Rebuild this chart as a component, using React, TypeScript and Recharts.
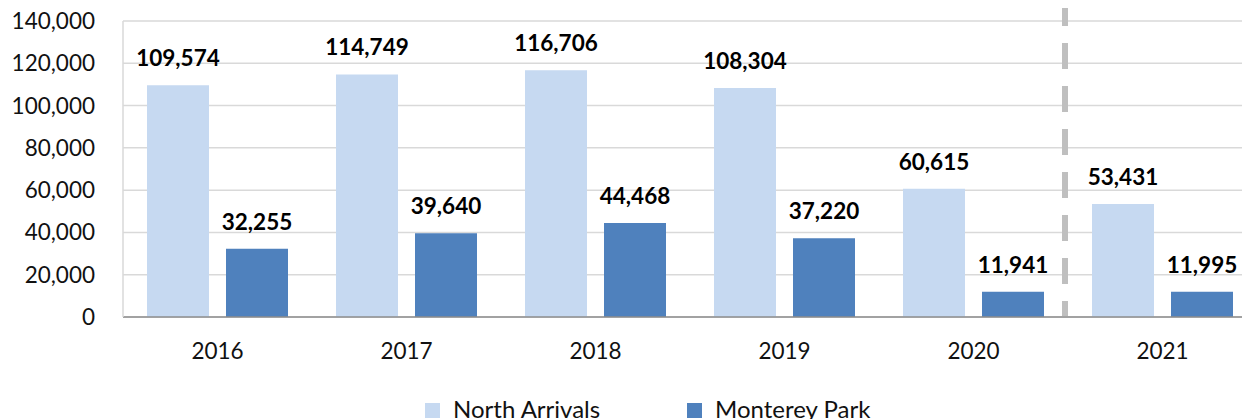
import React from "react";
import {
  BarChart,
  Bar,
  XAxis,
  YAxis,
  CartesianGrid,
  Legend,
  LabelList,
  ReferenceLine,
} from "recharts";

const years = ["2016", "2017", "2018", "2019", "2020", "2021"];
const northArrivals = [109574, 114749, 116706, 108304, 60615, 53431];
const montereyPark = [32255, 39640, 44468, 37220, 11941, 11995];
const yTicks = [0, 20000, 40000, 60000, 80000, 100000, 120000, 140000];
const seriesNames = ["North Arrivals", "Monterey Park"];
const ytdLabel = "Year to Date";

const data = years.map((y, i) => ({
  year: y,
  north: northArrivals[i],
  monterey: montereyPark[i],
}));

const FONT = "Lato, 'Open Sans', sans-serif";
const LIGHT = "#C6D9F1";
const DARK = "#4F81BD";

const fmt = (v: any) => Number(v).toLocaleString("en-US");

const renderLegend = () => {
  const items = [
    { name: seriesNames[0], color: LIGHT, left: 425 },
    { name: seriesNames[1], color: DARK, left: 687 },
  ];
  return (
    <div style={{ position: "relative", width: 1262, height: 24 }}>
      {items.map((it) => (
        <div
          key={it.name}
          style={{
            position: "absolute",
            left: it.left,
            top: 0,
            height: 24,
            display: "flex",
            alignItems: "center",
            fontFamily: FONT,
            fontSize: 24,
            color: "#111",
            whiteSpace: "nowrap",
          }}
        >
          <span
            style={{
              display: "inline-block",
              width: 15,
              height: 15,
              background: it.color,
              marginRight: 13,
              marginTop: 6,
            }}
          />
          <span style={{ lineHeight: "24px", marginTop: 4 }}>{it.name}</span>
        </div>
      ))}
    </div>
  );
};

const DividerShape = (props: any) => {
  const x = (props.x1 ?? 0) - 3;
  const bottom = Math.max(props.y1 ?? 0, props.y2 ?? 0) - 1;
  return (
    <g>
      <line
        x1={x}
        x2={x}
        y1={0}
        y2={bottom}
        stroke="#BFBFBF"
        strokeWidth={6}
        strokeDasharray="26 17"
      />
      <text
        x={x + 26}
        y={6}
        fill="#2F62A6"
        fontFamily={FONT}
        fontWeight="bold"
        fontSize={30}
      >
        {ytdLabel}
      </text>
    </g>
  );
};

export default function App() {
  return (
    <div
      style={{
        margin: "-8px 0 0 -8px",
        width: 1250,
        height: 419,
        overflow: "hidden",
        position: "relative",
        background: "#fff",
      }}
    >
      <BarChart
        width={1262}
        height={419}
        data={data}
        margin={{ top: 21, right: 5, bottom: 0, left: 0 }}
        barSize={62}
        barGap={17}
      >
        <CartesianGrid horizontal vertical={false} stroke="#D9D9D9" strokeWidth={1.5} />
        <XAxis
          dataKey="year"
          tickLine={false}
          tickSize={0}
          tickMargin={26}
          height={78}
          axisLine={{ stroke: "#8C8C8C", strokeWidth: 1.5 }}
          tick={{ fontFamily: FONT, fontSize: 22.5, fill: "#111" }}
        />
        <YAxis
          width={123}
          domain={[0, 140000]}
          ticks={yTicks}
          tickFormatter={fmt}
          tickLine={false}
          tickSize={0}
          tickMargin={28}
          axisLine={{ stroke: "#D9D9D9", strokeWidth: 1.5 }}
          tick={{ fontFamily: FONT, fontSize: 22.5, fill: "#111" }}
        />
        <Legend verticalAlign="bottom" content={renderLegend} wrapperStyle={{ left: 0, width: 1262 }} />
        <ReferenceLine x="2021" position="start" shape={DividerShape} ifOverflow="visible" />
        <Bar dataKey="north" name={seriesNames[0]} fill={LIGHT} isAnimationActive={false}>
          <LabelList
            dataKey="north"
            position="top"
            offset={19}
            formatter={fmt}
            style={{ fontFamily: FONT, fontSize: 22.5, fontWeight: "bold", fill: "#000" }}
          />
        </Bar>
        <Bar dataKey="monterey" name={seriesNames[1]} fill={DARK} isAnimationActive={false}>
          <LabelList
            dataKey="monterey"
            position="top"
            offset={19}
            formatter={fmt}
            style={{ fontFamily: FONT, fontSize: 22.5, fontWeight: "bold", fill: "#000" }}
          />
        </Bar>
      </BarChart>
    </div>
  );
}
